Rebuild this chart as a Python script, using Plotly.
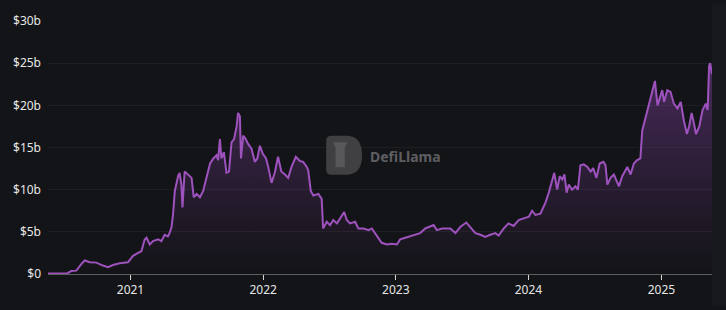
import plotly.graph_objects as go

dates = [
    "2020-05-19", "2020-06-20", "2020-07-12", "2020-07-22", "2020-08-05", "2020-08-19",
    "2020-08-28", "2020-09-11", "2020-09-29", "2020-10-17", "2020-10-31", "2020-11-14",
    "2020-12-02", "2020-12-25", "2021-01-08", "2021-01-22", "2021-01-31", "2021-02-09",
    "2021-02-14", "2021-02-23", "2021-03-04", "2021-03-18", "2021-03-27", "2021-04-05",
    "2021-04-14", "2021-04-19", "2021-04-24", "2021-04-28", "2021-05-03", "2021-05-12",
    "2021-05-16", "2021-05-21", "2021-05-24", "2021-05-30", "2021-06-09", "2021-06-18",
    "2021-06-24", "2021-07-02", "2021-07-11", "2021-07-20", "2021-07-29", "2021-08-08",
    "2021-08-17", "2021-08-26", "2021-08-30", "2021-09-04", "2021-09-08", "2021-09-15",
    "2021-09-22", "2021-09-29", "2021-10-06", "2021-10-13", "2021-10-20", "2021-10-24",
    "2021-10-29", "2021-11-01", "2021-11-07", "2021-11-14", "2021-11-21", "2021-11-30",
    "2021-12-09", "2021-12-16", "2021-12-23", "2021-12-31", "2022-01-09", "2022-01-15",
    "2022-01-24", "2022-02-02", "2022-02-11", "2022-02-20", "2022-03-02", "2022-03-11",
    "2022-03-20", "2022-04-01", "2022-04-12", "2022-04-21", "2022-05-01", "2022-05-05",
    "2022-05-12", "2022-05-19", "2022-06-02", "2022-06-11", "2022-06-15", "2022-06-25",
    "2022-07-04", "2022-07-13", "2022-07-23", "2022-08-01", "2022-08-12", "2022-08-19",
    "2022-08-28", "2022-09-11", "2022-09-20", "2022-10-04", "2022-10-18", "2022-10-27",
    "2022-11-05", "2022-11-14", "2022-11-23", "2022-12-07", "2022-12-21", "2023-01-04",
    "2023-01-13", "2023-01-27", "2023-02-09", "2023-02-23", "2023-03-09", "2023-03-23",
    "2023-04-06", "2023-04-15", "2023-04-24", "2023-05-08", "2023-05-22", "2023-05-31",
    "2023-06-14", "2023-06-28", "2023-07-14", "2023-07-25", "2023-08-08", "2023-08-22",
    "2023-09-04", "2023-09-18", "2023-10-02", "2023-10-11", "2023-10-25", "2023-11-07",
    "2023-11-21", "2023-12-05", "2023-12-19", "2024-01-02", "2024-01-11", "2024-01-20",
    "2024-02-03", "2024-02-17", "2024-02-26", "2024-03-06", "2024-03-12", "2024-03-20",
    "2024-03-27", "2024-04-03", "2024-04-09", "2024-04-15", "2024-04-21", "2024-04-30",
    "2024-05-09", "2024-05-16", "2024-05-23", "2024-06-01", "2024-06-11", "2024-06-20",
    "2024-06-27", "2024-07-06", "2024-07-15", "2024-07-25", "2024-07-31", "2024-08-05",
    "2024-08-14", "2024-08-23", "2024-09-01", "2024-09-06", "2024-09-15", "2024-09-29",
    "2024-10-08", "2024-10-17", "2024-10-26", "2024-11-04", "2024-11-09", "2024-11-18",
    "2024-11-27", "2024-12-07", "2024-12-14", "2024-12-21", "2024-12-28", "2025-01-03",
    "2025-01-08", "2025-01-17", "2025-01-26", "2025-02-04", "2025-02-14", "2025-02-23",
    "2025-03-04", "2025-03-12", "2025-03-18", "2025-03-25", "2025-03-31", "2025-04-06",
    "2025-04-15", "2025-04-24", "2025-05-03", "2025-05-08", "2025-05-12", "2025-05-15",
    "2025-05-20",
]

tvl_b = [
    0.05, 0.1, 0.1, 0.35, 0.4, 1.2,
    1.6, 1.4, 1.35, 1.0, 0.8, 1.07,
    1.27, 1.38, 2.15, 2.5, 2.7, 4.1,
    4.3, 3.5, 3.9, 4.1, 3.9, 4.65,
    4.45, 4.9, 5.6, 7.0, 9.85, 11.6,
    12.0, 10.6, 7.9, 12.15, 11.8, 11.4,
    9.1, 9.5, 9.1, 9.85, 11.4, 13.1,
    13.7, 14.1, 13.5, 16.0, 13.7, 14.45,
    12.0, 12.15, 15.6, 16.0, 17.5, 19.1,
    18.7, 13.7, 16.4, 16.0, 15.4, 14.85,
    13.3, 13.7, 15.2, 14.25, 13.7, 12.7,
    10.8, 12.0, 13.9, 12.15, 11.8, 11.4,
    12.7, 13.9, 13.4, 13.3, 12.7, 12.3,
    9.85, 9.3, 9.5, 8.9, 5.4, 6.2,
    5.8, 6.4, 6.0, 6.6, 7.35, 6.4,
    6.0, 6.2, 5.4, 5.4, 5.2, 5.4,
    4.85, 4.3, 3.7, 3.5, 3.6, 3.5,
    4.1, 4.3, 4.45, 4.6, 4.85, 5.4,
    5.6, 5.8, 5.2, 5.4, 5.4, 5.4,
    4.85, 5.6, 6.1, 5.6, 4.85, 4.65,
    4.4, 4.65, 4.85, 4.55, 5.4, 6.0,
    5.7, 6.4, 6.6, 6.8, 7.5, 7.0,
    7.15, 8.5, 9.65, 11.2, 12.0, 10.0,
    11.6, 11.2, 11.8, 9.65, 10.6, 10.0,
    10.4, 10.0, 12.9, 13.0, 12.7, 12.15,
    12.55, 11.4, 13.1, 13.3, 12.9, 10.6,
    11.4, 11.8, 11.0, 10.4, 11.6, 12.7,
    11.8, 13.1, 13.5, 13.7, 17.0, 18.5,
    20.0, 21.95, 22.9, 20.0, 21.0, 21.8,
    20.4, 21.8, 21.6, 20.2, 19.65, 20.4,
    18.1, 16.6, 17.5, 19.1, 17.9, 16.6,
    17.5, 19.45, 20.2, 19.45, 24.65, 25.0,
    23.7,
]

y_ticks = [0, 5, 10, 15, 20, 25, 30]
y_labels = ["$0", "$5b", "$10b", "$15b", "$20b", "$25b", "$30b"]
x_ticks = ["2021-01-01", "2022-01-01", "2023-01-01", "2024-01-01", "2025-01-01"]
x_labels = ["2021", "2022", "2023", "2024", "2025"]

BG = "#131417"
LINE = "#9d52bd"

fig = go.Figure()
fig.add_trace(go.Scatter(
    x=dates, y=tvl_b, mode="lines",
    line=dict(color=LINE, width=2),
    fill="tozeroy",
    fillgradient=dict(
        type="vertical",
        colorscale=[[0, "rgba(120,60,150,0.0)"], [1, "rgba(140,70,175,0.45)"]],
    ),
    hoverinfo="skip",
    showlegend=False,
))

# watermark geometry in paper coordinates
lx0, lx1, ly0, ly1 = 0.419, 0.473, 0.392, 0.546
lmid = (ly0 + ly1) / 2
logo_path = (
    f"M {lx0} {ly0 + 0.02} Q {lx0} {ly0} {lx0 + 0.008} {ly0} "
    f"L {lx0 + 0.03} {ly0} Q {lx1} {ly0} {lx1} {lmid} "
    f"Q {lx1} {ly1} {lx0 + 0.03} {ly1} "
    f"L {lx0 + 0.008} {ly1} Q {lx0} {ly1} {lx0} {ly1 - 0.02} Z"
)
inner_path = (
    f"M {lx0 + 0.014} {ly0 + 0.03} L {lx0 + 0.028} {ly0 + 0.03} "
    f"L {lx0 + 0.028} {ly1 - 0.045} L {lx0 + 0.032} {ly1 - 0.025} "
    f"L {lx0 + 0.010} {ly1 - 0.025} L {lx0 + 0.014} {ly1 - 0.045} Z"
)

fig.update_layout(
    width=726, height=310,
    margin=dict(l=48, r=14, t=17, b=33),
    paper_bgcolor=BG, plot_bgcolor=BG,
    font=dict(family="Noto Sans, Open Sans, sans-serif", color="#e6e6e6", size=12),
    xaxis=dict(
        type="date",
        range=["2020-05-19", "2025-05-20"],
        tickvals=x_ticks, ticktext=x_labels,
        showgrid=False, zeroline=False,
        showline=True, linecolor="#5d5e62", linewidth=1,
        ticks="outside", ticklen=5, tickcolor="#d8d8d8", tickwidth=1,
        tickfont=dict(size=12, color="#e6e6e6"),
    ),
    yaxis=dict(
        range=[0, 30],
        tickvals=y_ticks, ticktext=y_labels,
        showgrid=True, gridcolor="rgba(255,255,255,0.05)", gridwidth=1,
        zeroline=False, showline=False,
        ticks="", ticklabelstandoff=6,
        tickfont=dict(size=12, color="#e6e6e6"),
    ),
    shapes=[
        dict(type="rect", xref="paper", yref="paper", x0=1.0, x1=1.0 + 14 / 664,
             y0=-33 / 260, y1=1 + 17 / 260, fillcolor="#17181c", line=dict(width=0),
             layer="below"),
        dict(type="path", xref="paper", yref="paper", path=logo_path,
             fillcolor="#404043", line=dict(width=0), layer="above"),
        dict(type="path", xref="paper", yref="paper", path=inner_path,
             fillcolor="#58585b", line=dict(width=0), layer="above"),
    ],
    annotations=[
        dict(text="<b>DefiLlama</b>", xref="paper", yref="paper",
             x=0.482, y=0.465, xanchor="left", yanchor="middle", showarrow=False,
             font=dict(size=14, color="#5e5e61", family="Noto Sans, sans-serif")),
    ],
)

fig.write_html("out.html")
